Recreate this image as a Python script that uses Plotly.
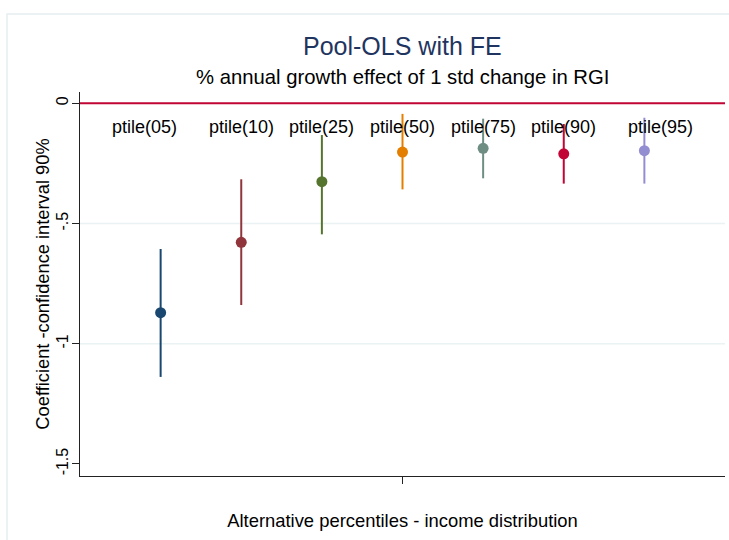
import plotly.graph_objects as go

# Coefficient estimates and 90% confidence bounds by income percentile
labels = ["ptile(05)", "ptile(10)", "ptile(25)", "ptile(50)", "ptile(75)", "ptile(90)", "ptile(95)"]
positions = [1, 2, 3, 4, 5, 6, 7]
coef = [-0.871, -0.578, -0.326, -0.203, -0.187, -0.210, -0.197]
ci_low = [-1.138, -0.839, -0.545, -0.358, -0.312, -0.334, -0.334]
ci_high = [-0.606, -0.316, -0.132, -0.044, -0.064, -0.086, -0.060]
colors = ["#1a476f", "#90353b", "#55752f", "#e37e00", "#6e8e84", "#c10534", "#938dd2"]

# Where the percentile captions sit (data units)
label_x = [0.8, 2, 3, 4, 5, 6, 7.2]
label_y = -0.1

FONT = "Liberation Sans, Arial, sans-serif"

fig = go.Figure()

for x, c, lo, hi, col, name in zip(positions, coef, ci_low, ci_high, colors, labels):
    # confidence interval as a vertical segment
    fig.add_trace(go.Scatter(
        x=[x, x], y=[lo, hi], mode="lines",
        line=dict(color=col, width=2), showlegend=False, hoverinfo="skip",
    ))
    # point estimate
    fig.add_trace(go.Scatter(
        x=[x], y=[c], mode="markers", name=name,
        marker=dict(color=col, size=11), showlegend=False,
    ))

# zero reference line
fig.add_hline(y=0, line=dict(color="#c10534", width=2))

# light grid lines at the interior ticks
for g in [-0.5, -1.0]:
    fig.add_shape(type="line", xref="paper", x0=0, x1=1, yref="y", y0=g, y1=g,
                  line=dict(color="#eaf2f3", width=1.5), layer="below")

# outer graph-region border
fig.add_shape(type="rect", xref="paper", yref="paper",
              x0=-0.1132, x1=1.3, y0=-0.4, y1=1.203,
              line=dict(color="#e6eef0", width=1.5), fillcolor="rgba(0,0,0,0)",
              layer="below")

for lx, txt in zip(label_x, labels):
    fig.add_annotation(x=lx, y=label_y, text=txt, showarrow=False,
                       font=dict(family=FONT, size=18, color="black"),
                       xanchor="center", yanchor="middle")

# titles
fig.add_annotation(x=0.5, y=1.12, xref="paper", yref="paper", text="Pool-OLS with FE",
                   showarrow=False, font=dict(family=FONT, size=25, color="#1f3560"),
                   xanchor="center", yanchor="middle")
fig.add_annotation(x=0.5, y=1.04, xref="paper", yref="paper",
                   text="% annual growth effect of 1 std change in RGI",
                   showarrow=False, font=dict(family=FONT, size=20.3, color="black"),
                   xanchor="center", yanchor="middle")

fig.update_layout(
    width=729, height=540,
    margin=dict(l=80, r=4, t=92, b=64),
    paper_bgcolor="white", plot_bgcolor="white",
    font=dict(family=FONT, color="black"),
    showlegend=False,
)

fig.update_xaxes(
    range=[0, 8], tickvals=[4], ticktext=[""], ticks="outside", ticklen=7,
    tickcolor="#222222", showgrid=False, zeroline=False,
    showline=True, linecolor="#222222", linewidth=1.3,
    title=dict(text="Alternative percentiles - income distribution",
               font=dict(family=FONT, size=18.4), standoff=28),
)

fig.update_yaxes(
    range=[-1.55, 0.047], tickvals=[0, -0.5, -1, -1.5], ticktext=["0", "-.5", "-1", "-1.5"],
    tickangle=-90, ticks="outside", ticklen=7, tickcolor="#222222",
    tickfont=dict(family=FONT, size=16), ticklabelstandoff=-3,
    showgrid=False, zeroline=False,
    showline=True, linecolor="#222222", linewidth=1.3,
    title=dict(text="Coefficient -confidence interval 90%",
               font=dict(family=FONT, size=18.3), standoff=0),
)

fig.write_html("out.html")
